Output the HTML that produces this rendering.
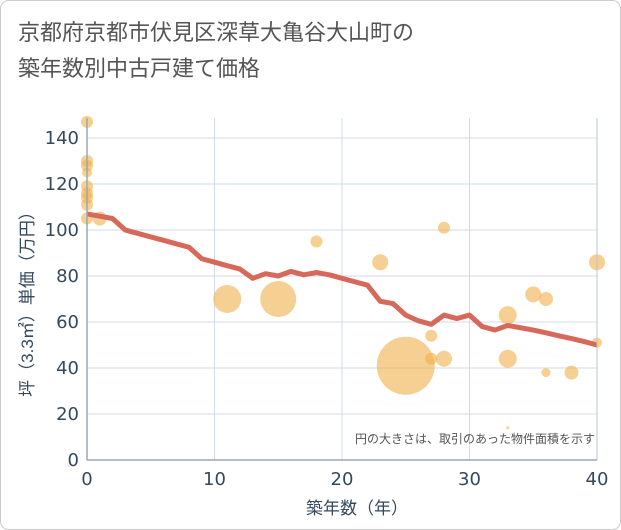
<!DOCTYPE html>
<html><head><meta charset="utf-8"><style>
body{margin:0;background:#fff;}
#c{width:621px;height:530px;position:relative;font-family:"Liberation Sans","Noto Sans CJK JP",sans-serif;}
</style></head><body>
<div id="c">
<svg id="s" width="621" height="530" xmlns="http://www.w3.org/2000/svg" style="position:absolute;left:0;top:0">
<rect x="0.5" y="0.5" width="620" height="529" rx="8" fill="#fff" stroke="#ccc"/>
<text x="18" y="40" font-size="22" fill="#555" font-family="Liberation Sans, Noto Sans CJK JP, sans-serif">京都府京都市伏見区深草大亀谷大山町の</text>
<text x="18" y="76" font-size="22" fill="#555" font-family="Liberation Sans, Noto Sans CJK JP, sans-serif">築年数別中古戸建て価格</text>
<g id="grid"></g><g id="bubbles"></g><g id="line"></g><g id="axes"></g>
<text x="595" y="443" font-size="12" fill="#555" text-anchor="end" font-family="Liberation Sans, Noto Sans CJK JP, sans-serif">円の大きさは、取引のあった物件面積を示す</text>
<text x="357" y="514" font-size="17" fill="#34495e" text-anchor="middle" font-family="Liberation Sans, Noto Sans CJK JP, sans-serif">築年数（年）</text>
<text transform="translate(33,300) rotate(-90)" font-size="17" fill="#34495e" text-anchor="middle" font-family="Liberation Sans, Noto Sans CJK JP, sans-serif">坪（3.3㎡）単価（万円）</text>
</svg>
</div>
<script>
const xTicks=[0,10,20,30,40];
const yTicks=[0,20,40,60,80,100,120,140];
const bubbleX=[0,0,0,0,0,0,0,0,0,1,11,15,18,23,25,27,27,28,28,33,33,33,35,36,36,38,40,40];
const bubbleY=[147,130,128,125,119,116,114,111,105,105,70,70,95,86,41,54,44,44,101,63,44,14,72,70,38,38,86,51];
const bubbleR=[6,6,6,5,6,6,6,6,6,7,14,18,6,8,29,6,6,8,6,9,9,1.5,8,7,4.5,7,8,5];
const lineX=[0,1,2,3,4,5,6,7,8,9,10,11,12,13,14,15,16,17,18,19,20,21,22,23,24,25,26,27,28,29,30,31,32,33,34,35,36,37,38,39,40];
const lineY=[107,106,105,100,98.5,97,95.5,94,92.5,87.5,86,84.5,83,79,81,80,82,80.5,81.5,80.5,79,77.5,76,69,68,63,60.5,59,63,61.5,63,58,56.5,58.5,57.5,56.5,55.3,54,52.8,51.5,50];
const NS='http://www.w3.org/2000/svg';
const X0=87,X1=597,Y0=460,YT=118;
const sx=v=>X0+(v-0)/40*(X1-X0);
const sy=v=>Y0-v*(Y0-138)/140;
function mk(t,a,p){const e=document.createElementNS(NS,t);for(const k in a)e.setAttribute(k,a[k]);p.appendChild(e);return e;}
const grid=document.getElementById('grid'),axes=document.getElementById('axes'),bub=document.getElementById('bubbles'),ln=document.getElementById('line');
yTicks.forEach(v=>{
 const g=mk('line',{x1:X0,x2:X1,y1:sy(v),y2:sy(v),stroke:'#d0dbe6','stroke-width':1},grid);
 
 
 const t=mk('text',{x:X0-8,y:sy(v)+6,'font-size':18,fill:'#34495e','text-anchor':'end','font-family':'DejaVu Sans, sans-serif'},axes);
 t.textContent=v;
 
 
});
xTicks.forEach(v=>{
 const g=mk('line',{x1:sx(v),x2:sx(v),y1:YT,y2:Y0,stroke:'#d0dbe6','stroke-width':1},grid);
 
 
 const t=mk('text',{x:sx(v),y:Y0+25,'font-size':18,fill:'#34495e','text-anchor':'middle','font-family':'DejaVu Sans, sans-serif'},axes);
 t.textContent=v;
 
 
});
const ya=mk('line',{x1:X0,x2:X0,y1:YT,y2:Y0,stroke:'#9aa8b4','stroke-width':1.5},axes);


const ra=mk('line',{x1:X1,x2:X1,y1:YT,y2:Y0,stroke:'#b8c4ce','stroke-width':1},axes);


const xa=mk('line',{x1:X0,x2:X1,y1:Y0,y2:Y0,stroke:'#9aa8b4','stroke-width':1.5},axes);


bubbleX.forEach((v,i)=>{
 const c=mk('circle',{cx:sx(v),cy:sy(bubbleY[i]),r:bubbleR[i],fill:'#f0b04a','fill-opacity':0.6},bub);
 
 
});
const p=mk('polyline',{points:lineX.map((v,i)=>sx(v)+','+sy(lineY[i])).join(' '),fill:'none',stroke:'#d6695a','stroke-width':5,'stroke-linejoin':'round'},ln);


</script>
</body></html>
